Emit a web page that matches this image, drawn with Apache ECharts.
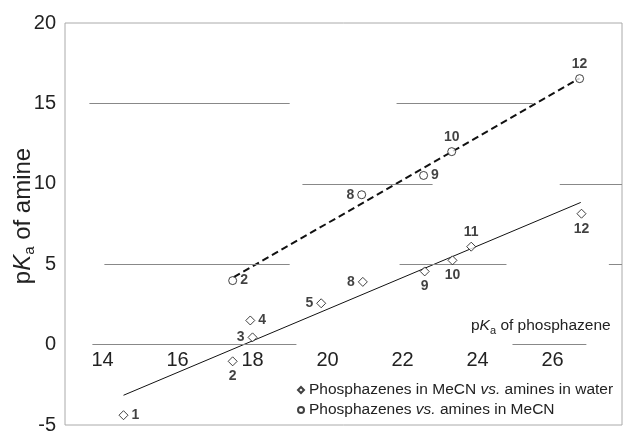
<!DOCTYPE html>
<html>
<head>
<meta charset="utf-8">
<style>
  * { margin: 0; padding: 0; }
  html, body { width: 100%; height: 100%; background: #fff; }
  #chart { width: 623px; height: 431px; }
</style>
<script src="https://cdn.jsdelivr.net/npm/echarts@6/dist/echarts.min.js"></script>
</head>
<body>
<div id="chart"></div>
<script>
// phosphazenes in MeCN vs. amines in water (diamonds)
var waterIds = ['1', '2', '3', '4', '5', '8', '9', '10', '11', '12']
var waterX = [14.56, 17.47, 18.0, 17.94, 19.83, 20.94, 22.59, 23.33, 23.83, 26.77]
var waterY = [-4.39, -1.04, 0.45, 1.5, 2.57, 3.9, 4.55, 5.24, 6.09, 8.14]
var waterLabelPos = ['right', 'bottom', 'left', 'right', 'left', 'left', 'bottom', 'bottom', 'top', 'bottom']

// phosphazenes vs. amines in MeCN (circles)
var mecnIds = ['2', '8', '9', '10', '12']
var mecnX = [17.47, 20.91, 22.56, 23.31, 26.72]
var mecnY = [3.98, 9.32, 10.52, 12.0, 16.54]
var mecnLabelPos = ['right', 'left', 'right', 'top', 'top']

// fitted lines, end points
var waterFitX = [14.56, 26.75]
var waterFitY = [-3.15, 8.84]
var mecnFitX = [17.5, 26.72]
var mecnFitY = [4.2, 16.56]

var xTicks = [14, 16, 18, 20, 22, 24, 26]

// broken grey rules of the scanned figure: [y, xFrom, xTo]
var ruleSegments = [
  [15, 13.65, 18.99], [15, 21.84, 25.47],
  [10, 19.33, 22.8], [10, 26.19, 27.85],
  [5, 14.05, 18.99], [5, 21.92, 24.77], [5, 27.5, 27.85],
  [0, 13.73, 19.17], [0, 24.93, 26.9]
]

var legendNames = ['Phosphazenes in MeCN vs. amines in water', 'Phosphazenes vs. amines in MeCN']

function points(xs, ys, ids, pos) {
  var out = []
  for (var i = 0; i < xs.length; i++) {
    out.push({ value: [xs[i], ys[i]], name: ids[i], label: { position: pos[i] } })
  }
  return out
}

function pairs(xs, ys) {
  var out = []
  for (var i = 0; i < xs.length; i++) out.push([xs[i], ys[i]])
  return out
}

var ruleLines = ruleSegments.map(function(s) {
  return [{ coord: [s[1], s[0]] }, { coord: [s[2], s[0]] }]
})

var font = 'Liberation Sans, Arial, Helvetica, sans-serif'
var pointLabel = {
  show: true,
  formatter: '{b}',
  fontFamily: font,
  fontWeight: 'bold',
  fontSize: 14,
  color: '#111',
  distance: 3
}

var chart = echarts.init(document.getElementById('chart'))
chart.setOption({
  animation: false,
  textStyle: { fontFamily: font },
  title: {
    text: 'p{i|K}{s|a} of phosphazene',
    left: 466,
    top: 311,
    textStyle: {
      fontFamily: font,
      fontSize: 15.5,
      fontWeight: 'normal',
      color: '#222',
      rich: {
        i: { fontFamily: font, fontSize: 15.5, fontStyle: 'italic', color: '#222' },
        s: { fontFamily: font, fontSize: 11, color: '#222', padding: [9, 0, 0, 0] }
      }
    }
  },
  grid: {
    left: 65,
    right: 1,
    top: 23,
    bottom: 6,
    outerBoundsMode: 'none',
    show: true,
    borderColor: '#aaa',
    borderWidth: 1
  },
  legend: {
    orient: 'vertical',
    left: 292,
    top: 377,
    itemWidth: 6,
    itemHeight: 6,
    itemGap: 4,
    data: legendNames,
    formatter: function(name) {
      return name.replace('vs.', '{i|vs.}')
    },
    textStyle: {
      fontFamily: font,
      fontSize: 15.5,
      color: '#222',
      rich: {
        i: { fontFamily: font, fontSize: 15.5, fontStyle: 'italic', color: '#222' }
      }
    }
  },
  xAxis: {
    type: 'value',
    min: 13,
    max: 27.85,
    position: 'bottom',
    offset: -80,
    axisLine: { show: false, onZero: false },
    axisTick: { show: false },
    splitLine: { show: false },
    axisLabel: {
      customValues: xTicks,
      fontFamily: font,
      fontSize: 20,
      color: '#222',
      margin: 5
    }
  },
  yAxis: {
    type: 'value',
    min: -5,
    max: 20,
    interval: 5,
    name: 'p{i|K}{s|a} of amine',
    nameLocation: 'middle',
    nameGap: 28,
    nameMoveOverlap: false,
    nameTextStyle: {
      fontFamily: font,
      fontSize: 24,
      color: '#222',
      padding: [0, 0, 0, 16],
      rich: {
        i: { fontFamily: font, fontSize: 24, fontStyle: 'italic', color: '#222' },
        s: { fontFamily: font, fontSize: 15, color: '#222', padding: [12, 0, 0, 0] }
      }
    },
    axisLine: { show: false },
    axisTick: { show: false },
    splitLine: { show: false },
    axisLabel: {
      fontFamily: font,
      fontSize: 20,
      color: '#222',
      margin: 9
    }
  },
  series: [
    {
      name: 'rules',
      type: 'line',
      data: [],
      silent: true,
      markLine: {
        silent: true,
        symbol: 'none',
        label: { show: false },
        lineStyle: { color: '#888', width: 1, type: 'solid' },
        data: ruleLines
      }
    },
    {
      name: 'water fit',
      type: 'line',
      data: pairs(waterFitX, waterFitY),
      showSymbol: false,
      symbol: 'none',
      silent: true,
      lineStyle: { color: '#111', width: 1 }
    },
    {
      name: 'MeCN fit',
      type: 'line',
      data: pairs(mecnFitX, mecnFitY),
      showSymbol: false,
      symbol: 'none',
      silent: true,
      lineStyle: { color: '#111', width: 2, type: [7, 4] }
    },
    {
      name: legendNames[0],
      type: 'scatter',
      symbol: 'diamond',
      symbolSize: 9,
      itemStyle: { color: '#fff', borderColor: '#111', borderWidth: 1 },
      label: pointLabel,
      data: points(waterX, waterY, waterIds, waterLabelPos),
      z: 5
    },
    {
      name: legendNames[1],
      type: 'scatter',
      symbol: 'circle',
      symbolSize: 8,
      itemStyle: { color: '#fff', borderColor: '#111', borderWidth: 1 },
      label: pointLabel,
      data: points(mecnX, mecnY, mecnIds, mecnLabelPos),
      z: 5
    }
  ]
})
</script>
</body>
</html>
